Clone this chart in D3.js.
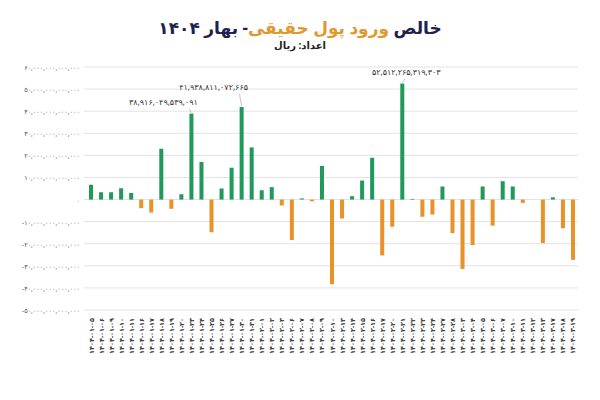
<!DOCTYPE html>
<html>
<head>
<meta charset="utf-8">
<script src="https://cdn.jsdelivr.net/npm/d3@7"></script>
<style>
  body { margin: 0; background: #fff; font-family: "Noto Sans", "DejaVu Sans", sans-serif; }
  #title { position: absolute; top: 16px; width: 600px; text-align: center; direction: rtl;
           font-weight: bold; font-size: 17px; color: #1c2150; }
  #title .hl { color: #e0992e; }
  #sub { position: absolute; top: 38px; width: 600px; text-align: center; direction: rtl;
         font-weight: bold; font-size: 10px; color: #222; }
</style>
</head>
<body>
<div id="title">خالص <span class="hl">ورود پول حقیقی</span>- بهار ۱۴۰۴</div>
<div id="sub">اعداد: ریال</div>
<script>
// trading days, spring 1404
const days = [
  "01-05","01-06","01-09","01-10","01-11","01-16","01-17","01-18","01-19","01-20",
  "01-23","01-24","01-25","01-26","01-27","01-30","01-31",
  "02-01","02-02","02-03","02-06","02-07","02-08","02-09","02-10","02-13","02-14",
  "02-15","02-16","02-17","02-20","02-21","02-22","02-23","02-24","02-27","02-28",
  "03-03","03-04","03-05","03-06","03-07","03-10","03-11","03-12","03-13","03-17",
  "03-18","03-19"
];
// net inflow, trillion rial
const values = [
  6.7, 3.3, 3.3, 5.1, 3.0, -3.9, -5.9, 23.0, -4.2, 2.4,
  38.9, 17.0, -14.8, 5.0, 14.4, 41.9, 23.6,
  4.2, 5.6, -2.7, -18.3, 0.5, -0.8, 15.2, -38.3, -8.6, 1.5,
  8.6, 18.9, -25.3, -12.3, 52.5, 0.3, -7.8, -6.8, 5.9, -15.2,
  -31.4, -20.6, 5.9, -11.8, 8.3, 5.9, -1.5, 0, -19.7, 1.0,
  -13.0, -27.3
];
const yTicks = [-50, -40, -30, -20, -10, 0, 10, 20, 30, 40, 50, 60];
// labelled peaks: [index, text, text x offset, text y]
const notes = [
  [10, "38,916,049,539,091", -28, 105],
  [15, "41,938,811,072,665", -28, 90],
  [31, "52,512,265,319,303", 4, 75]
];

const fa = s => String(s).replace(/\d/g, d => "۰۱۲۳۴۵۶۷۸۹"[d]);

const width = 600, height = 400;
const svg = d3.select("body").append("svg")
    .attr("width", width).attr("height", height);

const x = d3.scaleBand().domain(d3.range(values.length)).range([89, 575]).paddingInner(0.6);
const y = d3.scaleLinear().domain([-50, 60]).range([310, 67]);

// grid + y labels
svg.selectAll(".grid").data(yTicks).join("line")
    .attr("x1", 84).attr("x2", 578)
    .attr("y1", d => y(d)).attr("y2", d => y(d))
    .attr("stroke", "#e3e3e3").attr("stroke-width", 1);

svg.selectAll(".ylab").data(yTicks).join("text")
    .attr("x", 80).attr("y", d => y(d) + 3)
    .attr("text-anchor", "end")
    .attr("font-size", 6.5).attr("fill", "#555")
    .text(d => d === 0 ? "۰" : (d < 0 ? "-" : "") + fa(d3.format(",.0f")(Math.abs(d) * 1e12)));

// bars
svg.selectAll(".bar").data(values).join("rect")
    .attr("x", (d, i) => x(i))
    .attr("width", x.bandwidth())
    .attr("y", d => y(Math.max(0, d)))
    .attr("height", d => Math.abs(y(d) - y(0)))
    .attr("fill", d => d >= 0 ? "#1f9a5a" : "#e8922a");

// x labels
svg.selectAll(".xlab").data(days).join("text")
    .attr("transform", (d, i) => `translate(${x(i) + x.bandwidth() / 2 + 2.5},318) rotate(-90)`)
    .attr("text-anchor", "end")
    .attr("font-size", 6.5).attr("font-weight", "bold").attr("fill", "#333")
    .text(d => fa("1404-" + d));

// annotations
notes.forEach(([i, t, dx, ty]) => {
  const bx = x(i) + x.bandwidth() / 2;
  svg.append("line")
      .attr("x1", bx).attr("y1", y(values[i]) - 1)
      .attr("x2", bx + dx * 0.15 + 2).attr("y2", ty + 4)
      .attr("stroke", "#aaa").attr("stroke-width", 0.7);
  svg.append("text")
      .attr("x", bx + dx).attr("y", ty)
      .attr("text-anchor", "middle")
      .attr("font-size", 8).attr("fill", "#333")
      .text(fa(t));
});
</script>
</body>
</html>
